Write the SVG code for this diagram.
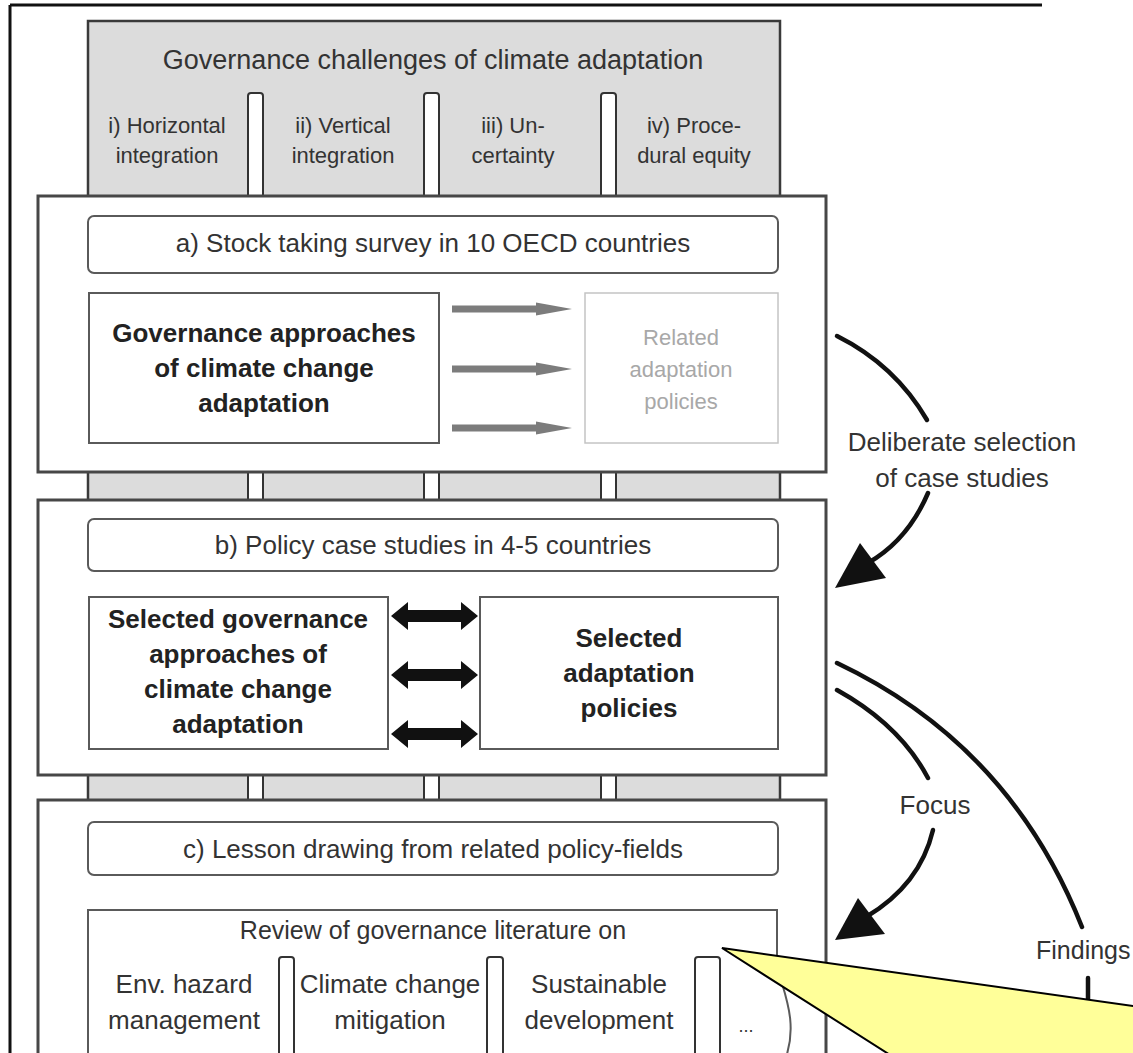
<svg xmlns="http://www.w3.org/2000/svg" width="1133" height="1053" viewBox="0 0 1133 1053">
<style>
.t{font-family:"Liberation Sans",Arial,sans-serif;fill:#333;text-anchor:middle}
.s26{font-size:26px}
.s22{font-size:22px}
.b{font-weight:bold;fill:#222}
.lite{fill:#a8a8a8}
.box{fill:#fff;stroke:#474747;stroke-width:3}
.inner{fill:#fff;stroke:#5a5a5a;stroke-width:2}
.gray{fill:#dcdcdc;stroke:#3a3a3a;stroke-width:2.5}
.post{fill:#fff;stroke:#333;stroke-width:2}
.curve{fill:none;stroke:#111;stroke-width:4.5;stroke-linecap:round}
.head{fill:#111}
.garrow{fill:#7c7c7c}
</style>
<rect width="1133" height="1053" fill="#fff"/>
<g id="frame">
<path d="M10,5 H1042 M10,5 V1053" fill="none" stroke="#111" stroke-width="3"/>
</g>
<g id="header">
<rect class="gray" x="88" y="21" width="692" height="1040"/>
<rect class="post" x="248" y="93" width="15" height="960" rx="3"/>
<rect class="post" x="424" y="93" width="15" height="960" rx="3"/>
<rect class="post" x="601" y="93" width="15" height="960" rx="3"/>
<text class="t" x="433" y="69" font-size="27">Governance challenges of climate adaptation</text>
<text class="t s22" x="167" y="133">i) Horizontal</text>
<text class="t s22" x="167" y="163">integration</text>
<text class="t s22" x="343" y="133">ii) Vertical</text>
<text class="t s22" x="343" y="163">integration</text>
<text class="t s22" x="513" y="133">iii) Un-</text>
<text class="t s22" x="513" y="163">certainty</text>
<text class="t s22" x="694" y="133">iv) Proce-</text>
<text class="t s22" x="694" y="163">dural equity</text>
</g>
<g id="boxA">
<rect class="box" x="38" y="196" width="788" height="276"/>
<rect class="inner" x="88" y="216" width="690" height="57" rx="6"/>
<text class="t s26" x="433" y="252">a) Stock taking survey in 10 OECD countries</text>
</g>
<g id="govApproaches">
<rect class="inner" x="89" y="293" width="350" height="150"/>
<text class="t s26 b" x="264" y="342">Governance approaches</text>
<text class="t s26 b" x="264" y="377">of climate change</text>
<text class="t s26 b" x="264" y="412">adaptation</text>
</g>
<g id="relatedPolicies">
<rect x="585" y="293" width="193" height="150" fill="#fff" stroke="#c4c4c4" stroke-width="1.5"/>
<text class="t s22 lite" x="681" y="345">Related</text>
<text class="t s22 lite" x="681" y="377">adaptation</text>
<text class="t s22 lite" x="681" y="409">policies</text>
</g>
<g id="boxB">
<rect class="box" x="38" y="500" width="788" height="275"/>
<rect class="inner" x="88" y="519" width="690" height="52" rx="6"/>
<text class="t s26" x="433" y="554">b) Policy case studies in 4-5 countries</text>
</g>
<g id="selectedGov">
<rect class="inner" x="89" y="597" width="299" height="152"/>
<text class="t s26 b" x="238" y="628">Selected governance</text>
<text class="t s26 b" x="238" y="663">approaches of</text>
<text class="t s26 b" x="238" y="698">climate change</text>
<text class="t s26 b" x="238" y="733">adaptation</text>
</g>
<g id="selectedPolicies">
<rect class="inner" x="480" y="597" width="298" height="152"/>
<text class="t s26 b" x="629" y="647">Selected</text>
<text class="t s26 b" x="629" y="682">adaptation</text>
<text class="t s26 b" x="629" y="717">policies</text>
</g>
<g id="boxC">
<rect class="box" x="38" y="800" width="788" height="300"/>
<rect class="inner" x="88" y="822" width="690" height="53" rx="6"/>
<text class="t s26" x="433" y="858">c) Lesson drawing from related policy-fields</text>
</g>
<g id="review">
<path class="inner" d="M88,1060 V910 H777 V964 C781,988 800,1020 785,1060 Z"/>
<text class="t" x="433" y="939" font-size="25">Review of governance literature on</text>
<rect class="post" x="279" y="957" width="15" height="110" rx="3"/>
<rect class="post" x="487" y="957" width="16" height="110" rx="3"/>
<rect class="post" x="695" y="957" width="25" height="110" rx="3"/>
<text class="t s26" x="184" y="993">Env. hazard</text>
<text class="t s26" x="184" y="1029">management</text>
<text class="t s26" x="390" y="993">Climate change</text>
<text class="t s26" x="390" y="1029">mitigation</text>
<text class="t s26" x="599" y="993">Sustainable</text>
<text class="t s26" x="599" y="1029">development</text>
<text class="t" x="746" y="1032" font-size="18" fill="#aaa">...</text>
</g>
<g id="connectors">
<g class="garrow">
<rect x="452" y="305.5" width="88" height="7"/><polygon points="536,302.5 572,309 536,315.5"/>
<rect x="452" y="365.5" width="88" height="7"/><polygon points="536,362.5 572,369 536,375.5"/>
<rect x="452" y="424.5" width="88" height="7"/><polygon points="536,421.5 572,428 536,434.5"/>
</g>
<g class="head">
<polygon points="391,616 408,602 408,610 461,610 461,602 478,616 461,630 461,622 408,622 408,630"/>
<polygon points="391,675 408,661 408,669 461,669 461,661 478,675 461,689 461,681 408,681 408,689"/>
<polygon points="391,734 408,720 408,728 461,728 461,720 478,734 461,748 461,740 408,740 408,748"/>
</g>
<path class="curve" d="M837,336 Q895,365 927,420"/>
<path class="curve" d="M928,493 Q908,540 868,563"/>
<polygon class="head" points="835,588 860,543 886,578"/>
<path class="curve" d="M837,690 Q900,725 928,778"/>
<path class="curve" d="M933,830 Q920,885 866,917"/>
<polygon class="head" points="835,940 858,898 885,934"/>
<path class="curve" d="M837,663 Q1010,745 1082,927"/>
<path class="curve" d="M1088,978 V1010"/>
<text class="t s26" x="962" y="451">Deliberate selection</text>
<text class="t s26" x="962" y="487">of case studies</text>
<text class="t s26" x="935" y="814">Focus</text>
<text class="t" x="1036" y="959" font-size="25" style="text-anchor:start">Findings</text>
</g>
<g id="callout">
<polygon points="722,948 1140,1007 1140,1060 898,1060" fill="#ffff99" stroke="#000" stroke-width="2"/>
</g>
</svg>
